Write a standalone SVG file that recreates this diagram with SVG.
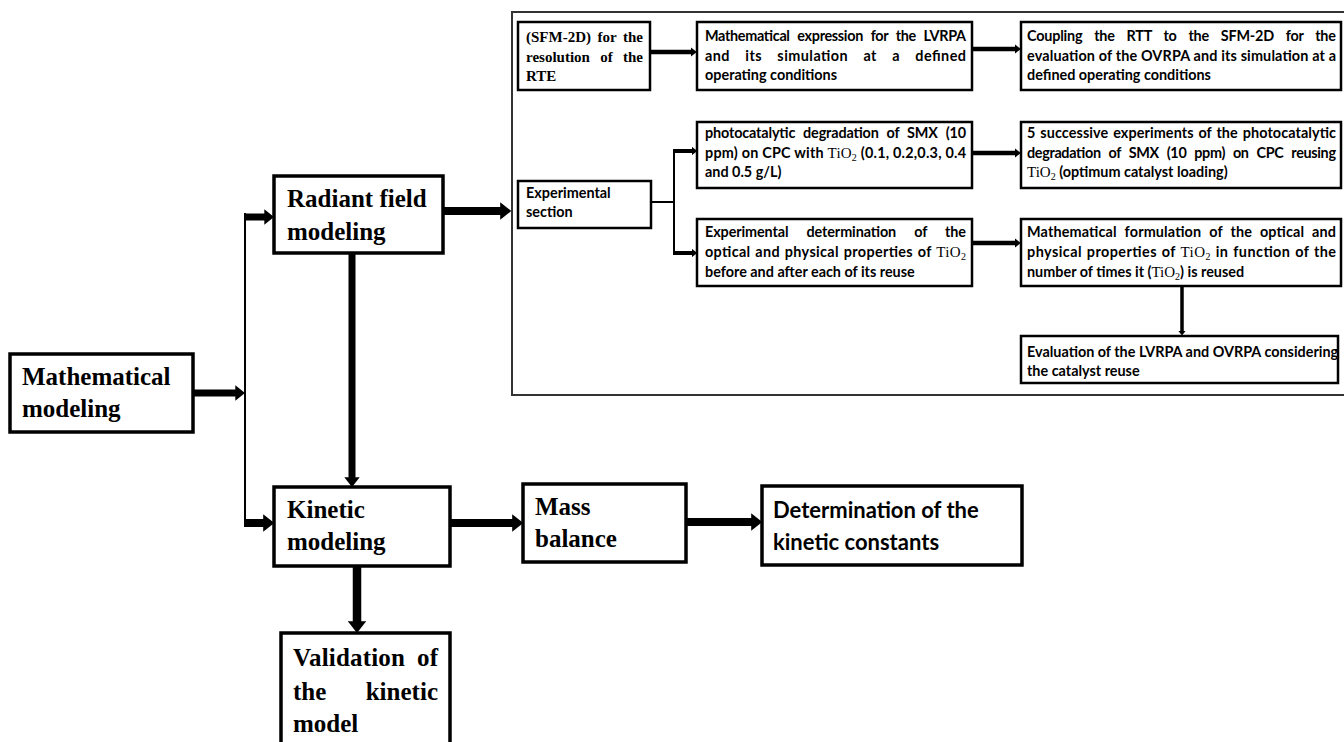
<svg xmlns="http://www.w3.org/2000/svg" width="1344" height="742" viewBox="0 0 1344 742">
<defs>
<marker id="ah" viewBox="0 0 14 22" markerWidth="1.4" markerHeight="2.2" refX="1" refY="11" orient="auto" markerUnits="strokeWidth">
<path d="M0,0 L14,11 L0,22 z" fill="#000"/>
</marker>
</defs>
<style>
.mb{fill:#fff;stroke:#000;stroke-width:3.5}
.ib{fill:#fff;stroke:#000;stroke-width:2.5}
.fr{fill:none;stroke:#333;stroke-width:2}
.tm{font-family:"Liberation Serif",serif;font-weight:bold;font-size:25px;fill:#000}
.ts{font-family:"Liberation Serif",serif;font-weight:bold;font-size:15px;fill:#000}
.tc{font-family:Lato,"Liberation Sans",sans-serif;font-weight:bold;font-size:14.4px;fill:#000}
.tl{font-family:Lato,"Liberation Sans",sans-serif;font-weight:bold;font-size:22px;fill:#000}
.ser{font-family:"Liberation Serif",serif;font-weight:normal;font-size:15px}
.sub{font-size:10px}
.c{fill:none;stroke:#000}
.a{marker-end:url(#ah)}
</style>
<rect class="fr" x="512" y="12" width="850" height="383"/>
<g id="connectors">
<line class="c a" x1="193" y1="393" x2="236" y2="393" stroke-width="7"/>
<line class="c" x1="245" y1="213" x2="245" y2="527" stroke-width="2"/>
<line class="c a" x1="244" y1="217" x2="265" y2="217" stroke-width="7"/>
<line class="c a" x1="244" y1="523" x2="264" y2="523" stroke-width="8"/>
<line class="c a" x1="443" y1="211" x2="501" y2="211" stroke-width="8"/>
<line class="c a" x1="352" y1="253" x2="352" y2="478" stroke-width="7"/>
<line class="c a" x1="450" y1="523" x2="513" y2="523" stroke-width="8"/>
<line class="c a" x1="686" y1="522" x2="752" y2="522" stroke-width="8"/>
<line class="c a" x1="357" y1="566" x2="357" y2="622" stroke-width="8.5"/>
<line class="c a" x1="650" y1="52" x2="691" y2="52" stroke-width="4.5"/>
<line class="c a" x1="972" y1="49" x2="1015" y2="49" stroke-width="4.5"/>
<line class="c a" x1="972" y1="153" x2="1015" y2="153" stroke-width="4.5"/>
<line class="c a" x1="972" y1="243" x2="1015" y2="243" stroke-width="4.5"/>
<line class="c" x1="651" y1="202" x2="674" y2="202" stroke-width="2"/>
<line class="c" x1="674" y1="150" x2="674" y2="254" stroke-width="2"/>
<line class="c a" x1="673" y1="151" x2="692" y2="151" stroke-width="4"/>
<line class="c a" x1="673" y1="253" x2="692" y2="253" stroke-width="4"/>
<line class="c a" x1="1182" y1="286" x2="1182" y2="331" stroke-width="3.5"/>
</g>
<g id="n-math">
<rect class="mb" x="10" y="354" width="183" height="78"/>
<text class="tm" x="22" y="385">Mathematical</text>
<text class="tm" x="22" y="417">modeling</text>
</g>
<g id="n-radiant">
<rect class="mb" x="274" y="176" width="169" height="77"/>
<text class="tm" x="287" y="207">Radiant field</text>
<text class="tm" x="287" y="240">modeling</text>
</g>
<g id="n-kinetic">
<rect class="mb" x="274" y="487" width="176" height="79"/>
<text class="tm" x="287" y="518">Kinetic</text>
<text class="tm" x="287" y="550">modeling</text>
</g>
<g id="n-mass">
<rect class="mb" x="523" y="484" width="163" height="78"/>
<text class="tm" x="535" y="515">Mass</text>
<text class="tm" x="535" y="547">balance</text>
</g>
<g id="n-determination">
<rect class="mb" x="762" y="486" width="260" height="79"/>
<text class="tl" x="773" y="518">Determination of the</text>
<text class="tl" x="773" y="550">kinetic constants</text>
</g>
<g id="n-validation">
<rect class="mb" x="281" y="633" width="169" height="125"/>
<text class="tm" x="293" y="666" word-spacing="5.4" textLength="145" lengthAdjust="spacing">Validation of</text>
<text class="tm" x="293" y="700" word-spacing="33" textLength="145" lengthAdjust="spacing">the kinetic</text>
<text class="tm" x="293" y="732">model</text>
</g>
<g id="n-sfm">
<rect class="ib" x="518" y="22" width="132" height="68"/>
<text class="ts" x="526" y="42" word-spacing="2.7" textLength="117" lengthAdjust="spacing">(SFM-2D) for the</text>
<text class="ts" x="526" y="61.5" word-spacing="6.5" textLength="117" lengthAdjust="spacing">resolution of the</text>
<text class="ts" x="526" y="81">RTE</text>
</g>
<g id="n-lvrpa">
<rect class="ib" x="697" y="22" width="275" height="68"/>
<text class="tc" x="705" y="41" word-spacing="4.5" textLength="261" lengthAdjust="spacing">Mathematical expression for the LVRPA</text>
<text class="tc" x="705" y="60.5" word-spacing="11.4" textLength="261" lengthAdjust="spacing">and its simulation at a defined</text>
<text class="tc" x="705" y="80">operating conditions</text>
</g>
<g id="n-coupling">
<rect class="ib" x="1021" y="22" width="320" height="68"/>
<text class="tc" x="1027" y="41" word-spacing="8.4" textLength="309" lengthAdjust="spacing">Coupling the RTT to the SFM-2D for the</text>
<text class="tc" x="1027" y="60.5" textLength="309" lengthAdjust="spacing">evaluation of the OVRPA and its simulation at a</text>
<text class="tc" x="1027" y="80">defined operating conditions</text>
</g>
<g id="n-photocat">
<rect class="ib" x="697" y="122" width="275" height="66"/>
<text class="tc" x="705" y="138" word-spacing="4.5" textLength="261" lengthAdjust="spacing">photocatalytic degradation of SMX (10</text>
<text class="tc" x="705" y="158" textLength="261" lengthAdjust="spacing">ppm) on CPC with <tspan class="ser">TiO<tspan class="sub" dy="3">2</tspan></tspan><tspan dy="-3"> (0.1, 0.2,0.3, 0.4</tspan></text>
<text class="tc" x="705" y="177">and 0.5 g/L)</text>
</g>
<g id="n-five">
<rect class="ib" x="1021" y="122" width="320" height="66"/>
<text class="tc" x="1027" y="138" word-spacing="1.2" textLength="309" lengthAdjust="spacing">5 successive experiments of the photocatalytic</text>
<text class="tc" x="1027" y="158" word-spacing="4.7" textLength="309" lengthAdjust="spacing">degradation of SMX (10 ppm) on CPC reusing</text>
<text class="tc" x="1027" y="177"><tspan class="ser">TiO<tspan class="sub" dy="3">2</tspan></tspan><tspan dy="-3"> (optimum catalyst loading)</tspan></text>
</g>
<g id="n-expsec">
<rect class="ib" x="518" y="181" width="133" height="47"/>
<text class="tc" x="526" y="198">Experimental</text>
<text class="tc" x="526" y="217">section</text>
</g>
<g id="n-expdet">
<rect class="ib" x="697" y="219" width="275" height="67"/>
<text class="tc" x="705" y="237" word-spacing="14.7" textLength="261" lengthAdjust="spacing">Experimental determination of the</text>
<text class="tc" x="705" y="257" word-spacing="1" textLength="261" lengthAdjust="spacing">optical and physical properties of <tspan class="ser">TiO<tspan class="sub" dy="3">2</tspan></tspan></text>
<text class="tc" x="705" y="277">before and after each of its reuse</text>
</g>
<g id="n-mathform">
<rect class="ib" x="1021" y="219" width="320" height="67"/>
<text class="tc" x="1027" y="237" word-spacing="4.3" textLength="309" lengthAdjust="spacing">Mathematical formulation of the optical and</text>
<text class="tc" x="1027" y="257" word-spacing="0.9" textLength="309" lengthAdjust="spacing">physical properties of <tspan class="ser">TiO<tspan class="sub" dy="3">2</tspan></tspan><tspan dy="-3"> in function of the</tspan></text>
<text class="tc" x="1027" y="277">number of times it (<tspan class="ser">TiO<tspan class="sub" dy="3">2</tspan></tspan><tspan dy="-3">) is reused</tspan></text>
</g>
<g id="n-eval">
<rect class="ib" x="1021" y="336" width="317" height="47"/>
<text class="tc" x="1027" y="357">Evaluation of the LVRPA and OVRPA considering</text>
<text class="tc" x="1027" y="376">the catalyst reuse</text>
</g>
</svg>
